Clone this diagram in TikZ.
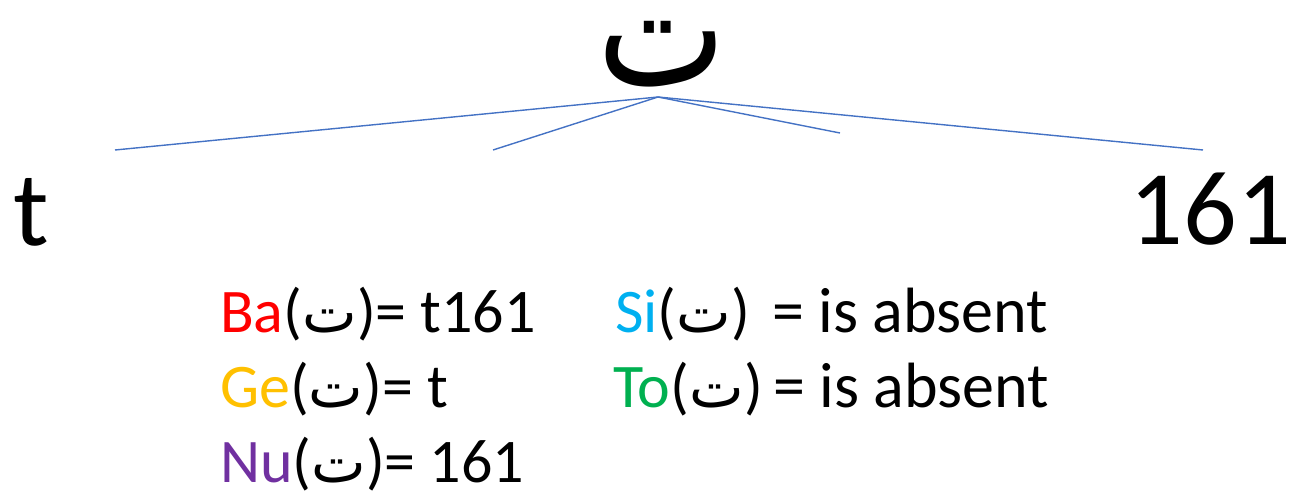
\documentclass[tikz,border=0pt]{standalone}
\usepackage{fontspec}
\setmainfont{Carlito}
\newfontfamily\arabicfont[Script=Arabic]{DejaVu Sans}
\TeXXeTstate=1
\usepackage{xcolor}
\definecolor{lineblue}{HTML}{4472C4}
\definecolor{baRed}{HTML}{FF0000}
\definecolor{geGold}{HTML}{FFC000}
\definecolor{nuPurple}{HTML}{7030A0}
\definecolor{siCyan}{HTML}{00B0F0}
\definecolor{toGreen}{HTML}{00B050}
\newcommand\teh{{\arabicfont\fontsize{58}{72}\selectfont\beginR ت\endR}}

\begin{document}
\begin{tikzpicture}[x=1pt,y=-1pt,
  branch/.style={lineblue, line width=1.4pt},
  bigtext/.style={font=\fontsize{106}{110}\selectfont, inner sep=0pt},
  rowtext/.style={font=\fontsize{62}{72}\selectfont, anchor=base west, inner sep=0pt,
    text height=44pt, text depth=12pt}]
  \useasboundingbox (0,0) rectangle (1294,497);
  % the letter and its branches
  \node[anchor=base, inner sep=0pt, text height=66pt, text depth=2pt, yscale=1.2, transform shape,
    font=\arabicfont\fontsize{137}{140}\selectfont] (letter) at (662,86) {\beginR ت\endR};
  \coordinate (apex) at (658,97);
  \coordinate (endA) at (115,150);
  \coordinate (endB) at (493,150);
  \coordinate (endC) at (840,133);
  \coordinate (endD) at (1203,150);
  \draw[branch] (apex) -- (endA);
  \draw[branch] (apex) -- (endB);
  \draw[branch] (apex) -- (endC);
  \draw[branch] (apex) -- (endD);
  \node[bigtext, anchor=base west] (leftend) at (13,246) {t};
  \node[bigtext, anchor=base east] (rightend) at (1291,245) {161};

  % code for the value rows
  \node[rowtext] (ba) at (220,332) {\textcolor{baRed}{Ba}(\teh)= t161};
  \node[rowtext] (ge) at (220,407) {\textcolor{geGold}{Ge}(\teh)= t};
  \node[rowtext] (nu) at (220,482) {\textcolor{nuPurple}{Nu}(\teh)= 161};
  \node[rowtext] (si) at (615,332) {\textcolor{siCyan}{Si}(\teh)};
  \node[rowtext, font=\fontsize{64}{72}\selectfont] (sival) at (772,332) {= is absent};
  \node[rowtext] (to) at (613,407) {\textcolor{toGreen}{To}(\teh)};
  \node[rowtext, font=\fontsize{64}{72}\selectfont] (toval) at (773,407) {= is absent};
\end{tikzpicture}
\end{document}
